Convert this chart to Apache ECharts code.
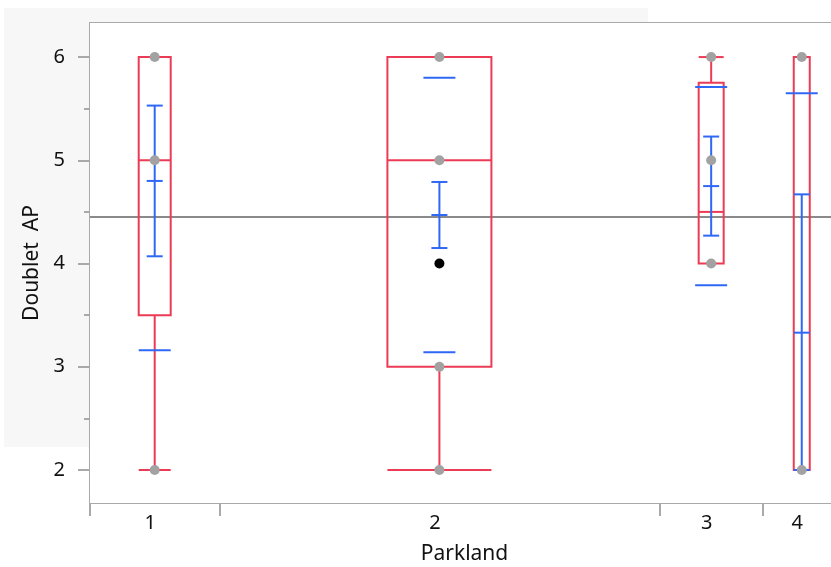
<!DOCTYPE html>
<html>
<head>
<meta charset="utf-8">
<script src="https://cdn.jsdelivr.net/npm/echarts@6/dist/echarts.min.js"></script>
<style>
html,body{margin:0;padding:0;background:#fff;}
#chart{width:831px;height:567px;}
</style>
</head>
<body>
<div id="chart"></div>
<script>
// ---- data ----
const categories = ['1', '2', '3', '4'];
const groupN = [5, 17, 4, 3];
const whiskerLow = [2, 2, 4, 2];
const quart1 = [3.5, 3, 4, 2];
const medians = [5, 5, 4.5, 2];
const quart3 = [6, 6, 5.75, 6];
const whiskerHigh = [6, 6, 6, 6];
const means = [4.80, 4.47, 4.75, 3.33];
const seLow = [4.07, 4.15, 4.27, 2.00];
const seHigh = [5.53, 4.79, 5.23, 4.67];
const sdLow = [3.16, 3.14, 3.79, 1.02];
const sdHigh = [6.44, 5.80, 5.71, 5.65];
const grandMean = 4.45;
const pointsGray = [[6, 5, 2], [6, 5, 3, 2], [6, 5, 4], [6, 2]];
const pointsBlack = [[], [4], [], []];
const yMajorTicks = [2, 3, 4, 5, 6];
const yMinorTicks = [2.5, 3.5, 4.5, 5.5];

// ---- styles ----
const STYLE = {
  red: '#ec3b55',
  blue: '#2f68f5',
  gray: '#a2a2a2',
  meanLine: '#8a8a8a',
  axis: '#a9a9a9',
  font: 'Noto Sans',
  boxPx: [32, 104, 25, 16],
  capPx: 16,
  sdPx: 32
};

// category bounds / centers from group sizes
const bounds = [0];
groupN.forEach(n => bounds.push(bounds[bounds.length - 1] + n));
const centers = groupN.map((n, i) => (bounds[i] + bounds[i + 1]) / 2);
const total = bounds[bounds.length - 1];
const xViewMax = 28.63; // last group runs past the right edge of the frame

const boxData = categories.map((c, i) => [centers[i], whiskerLow[i], quart1[i], medians[i], quart3[i], whiskerHigh[i]]);
const meanData = categories.map((c, i) => [centers[i], means[i], seLow[i], seHigh[i], sdLow[i], sdHigh[i]]);
const grayData = [];
pointsGray.forEach((arr, i) => arr.forEach(v => grayData.push([centers[i], v])));
const blackData = [];
pointsBlack.forEach((arr, i) => arr.forEach(v => blackData.push([centers[i], v])));

function hline(x1, x2, y, color) {
  return { type: 'line', shape: { x1: x1, y1: y, x2: x2, y2: y }, style: { stroke: color, lineWidth: 2 } };
}
function vline(x, y1, y2, color) {
  return { type: 'line', shape: { x1: x, y1: y1, x2: x, y2: y2 }, style: { stroke: color, lineWidth: 2 } };
}

function renderBox(params, api) {
  const i = params.dataIndex;
  const cx = api.value(0);
  const half = STYLE.boxPx[i] / 2;
  const pLo = api.coord([cx, api.value(1)]);
  const pQ1 = api.coord([cx, api.value(2)]);
  const pMed = api.coord([cx, api.value(3)]);
  const pQ3 = api.coord([cx, api.value(4)]);
  const pHi = api.coord([cx, api.value(5)]);
  const x = pQ1[0];
  const ch = [];
  ch.push({ type: 'rect', shape: { x: x - half, y: pQ3[1], width: half * 2, height: pQ1[1] - pQ3[1] },
            style: { fill: 'none', stroke: STYLE.red, lineWidth: 2 } });
  ch.push(hline(x - half, x + half, pMed[1], STYLE.red));
  if (api.value(5) > api.value(4)) {
    ch.push(vline(x, pQ3[1], pHi[1], STYLE.red));
    ch.push(hline(x - half, x + half, pHi[1], STYLE.red));
  }
  if (api.value(1) < api.value(2)) {
    ch.push(vline(x, pQ1[1], pLo[1], STYLE.red));
    ch.push(hline(x - half, x + half, pLo[1], STYLE.red));
  }
  return { type: 'group', children: ch };
}

function renderMean(params, api) {
  const cx = api.value(0);
  const pM = api.coord([cx, api.value(1)]);
  const pL = api.coord([cx, api.value(2)]);
  const pH = api.coord([cx, api.value(3)]);
  const pSL = api.coord([cx, api.value(4)]);
  const pSH = api.coord([cx, api.value(5)]);
  const x = pM[0];
  const c = STYLE.capPx / 2, s = STYLE.sdPx / 2;
  return { type: 'group', children: [
    vline(x, pL[1], pH[1], STYLE.blue),
    hline(x - c, x + c, pL[1], STYLE.blue),
    hline(x - c, x + c, pM[1], STYLE.blue),
    hline(x - c, x + c, pH[1], STYLE.blue),
    hline(x - s, x + s, pSL[1], STYLE.blue),
    hline(x - s, x + s, pSH[1], STYLE.blue)
  ] };
}

const chart = echarts.init(document.getElementById('chart'), null, { renderer: 'canvas' });
const labelFont = { fontFamily: STYLE.font, fontSize: 20, color: '#111' };

chart.setOption({
  animation: false,
  backgroundColor: '#ffffff',
  graphic: [{
    type: 'rect', z: -100, silent: true,
    shape: { x: 4, y: 8, width: 644, height: 439 },
    style: { fill: '#f7f7f7' }
  }],
  grid: { left: 90, top: 23, right: 0, bottom: 64, show: true, backgroundColor: '#ffffff', borderWidth: 0, z: 1,
          outerBoundsMode: 'none', containLabel: false },
  xAxis: [{
    type: 'value', min: 0, max: xViewMax, position: 'bottom',
    name: 'Parkland', nameLocation: 'middle', nameGap: 41,
    nameTextStyle: { fontFamily: STYLE.font, fontSize: 21, color: '#111', padding: [0, 0, 0, 8] },
    axisLine: { show: true, lineStyle: { color: STYLE.axis, width: 2 } },
    axisTick: { show: true, customValues: bounds.slice(0, -1), length: 13, lineStyle: { color: STYLE.axis, width: 2 } },
    axisLabel: Object.assign({ customValues: centers, margin: 10, padding: [0, 9, 0, 0],
      formatter: function (v) {
        let best = 0;
        centers.forEach((c, i) => { if (Math.abs(c - v) < Math.abs(centers[best] - v)) best = i; });
        return categories[best];
      } }, labelFont),
    splitLine: { show: false }
  }, {
    type: 'value', min: 0, max: xViewMax, position: 'top',
    axisLine: { show: true, lineStyle: { color: STYLE.axis, width: 2 } },
    axisTick: { show: false }, axisLabel: { show: false }, splitLine: { show: false }
  }],
  yAxis: [{
    type: 'value', min: 1.68, max: 6.33, position: 'left',
    name: 'Doublet  AP', nameLocation: 'middle', nameGap: 47, nameRotate: 90,
    nameTextStyle: { fontFamily: STYLE.font, fontSize: 21, color: '#111' },
    axisLine: { show: true, lineStyle: { color: STYLE.axis, width: 2 } },
    axisTick: { show: true, customValues: yMajorTicks, length: 12, lineStyle: { color: STYLE.axis, width: 2 } },
    axisLabel: Object.assign({ customValues: yMajorTicks, margin: 25 }, labelFont),
    splitLine: { show: false }
  }, {
    type: 'value', min: 1.68, max: 6.33, position: 'left', offset: 0,
    axisLine: { show: false },
    axisTick: { show: true, customValues: yMinorTicks, length: 6, lineStyle: { color: STYLE.axis, width: 2 } },
    axisLabel: { show: false }, splitLine: { show: false }
  }],
  series: [
    {
      type: 'line', name: 'grand mean', xAxisIndex: 0, yAxisIndex: 0,
      data: [[0, grandMean], [total, grandMean]], symbol: 'none', z: 2, clip: true,
      lineStyle: { color: STYLE.meanLine, width: 2 }
    },
    {
      type: 'custom', name: 'box', renderItem: renderBox, data: boxData, clip: true, z: 3,
      encode: { x: 0, y: [1, 2, 3, 4, 5] }
    },
    {
      type: 'custom', name: 'means', renderItem: renderMean, data: meanData, clip: true, z: 4,
      encode: { x: 0, y: [1, 2, 3] }
    },
    {
      type: 'scatter', name: 'points', data: grayData, symbolSize: 10, z: 5,
      itemStyle: { color: STYLE.gray, opacity: 1 }
    },
    {
      type: 'scatter', name: 'selected', data: blackData, symbolSize: 10, z: 6,
      itemStyle: { color: '#000', opacity: 1 }
    }
  ]
});
</script>
</body>
</html>
